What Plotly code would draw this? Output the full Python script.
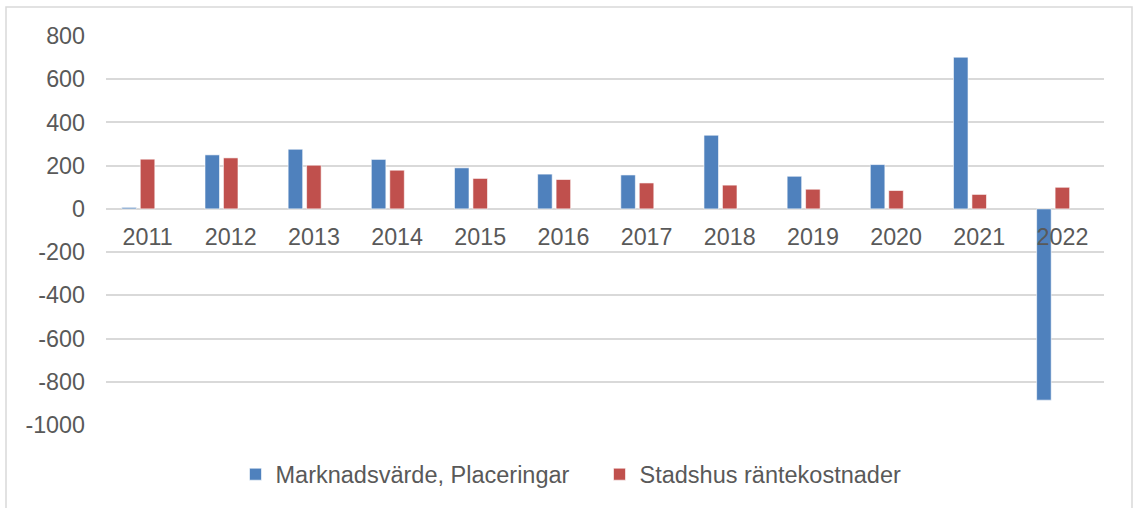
import plotly.graph_objects as go

years = ["2011", "2012", "2013", "2014", "2015", "2016", "2017", "2018", "2019", "2020", "2021", "2022"]
marknadsvarde = [7, 250, 276, 229, 190, 161, 157, 341, 151, 205, 702, -885]
rantekostnader = [230, 236, 202, 179, 141, 136, 120, 110, 91, 85, 67, 100]
ytick_vals = [800, 600, 400, 200, 0, -200, -400, -600, -800, -1000]
ytick_text = ["800", "600", "400", "200", "0", "-200", "-400", "-600", "-800", "-1000"]

FONT = "Liberation Sans, Arial, sans-serif"
GRAY = "#595959"
GRID = "#d9d9d9"

fig = go.Figure()
fig.add_trace(go.Bar(
    x=years, y=marknadsvarde, name="Marknadsvärde, Placeringar",
    marker=dict(color="#4F81BD", line=dict(color="#ffffff", width=0.6)),
    width=0.175, offset=-0.31,
))
fig.add_trace(go.Bar(
    x=years, y=rantekostnader, name="Stadshus räntekostnader",
    marker=dict(color="#C0504D", line=dict(color="#ffffff", width=0.6)),
    width=0.175, offset=-0.088,
))

ymin, ymax = -1000, 800
fig.update_layout(
    width=1133, height=508,
    margin=dict(l=106, r=29, t=36, b=83),
    paper_bgcolor="white", plot_bgcolor="white",
    barmode="overlay",
    font=dict(family=FONT, size=23.3, color=GRAY),
    showlegend=True,
    legend=dict(orientation="h", x=(235.5 - 106) / 998, xanchor="left", y=-0.127, yanchor="middle",
                font=dict(size=23.5, color=GRAY), itemclick=False, traceorder="normal",
                entrywidth=319, entrywidthmode="pixels"),
    xaxis=dict(type="category", showgrid=False, showline=False, ticks="",
               anchor="free", position=(0 - ymin) / (ymax - ymin),
               tickfont=dict(size=23.3, color=GRAY), ticklabelstandoff=12),
    yaxis=dict(range=[ymin, ymax], tickvals=ytick_vals, ticktext=ytick_text,
               showgrid=True, gridcolor=GRID, gridwidth=2,
               zeroline=True, zerolinecolor=GRID, zerolinewidth=2,
               showline=False, ticks="", tickfont=dict(size=23.3, color=GRAY),
               ticklabelstandoff=20),
    shapes=[dict(type="rect", xref="paper", yref="paper",
                 x0=(6 - 106) / 998, x1=(1132 - 106) / 998,
                 y0=(425 - 520) / 389, y1=(425 - 7) / 389,
                 line=dict(color="#d9d9d9", width=1.5), fillcolor="rgba(0,0,0,0)", layer="below")],
)

fig.write_html("out.html", config={"displayModeBar": False},
               post_script="document.body.style.margin='0';")
